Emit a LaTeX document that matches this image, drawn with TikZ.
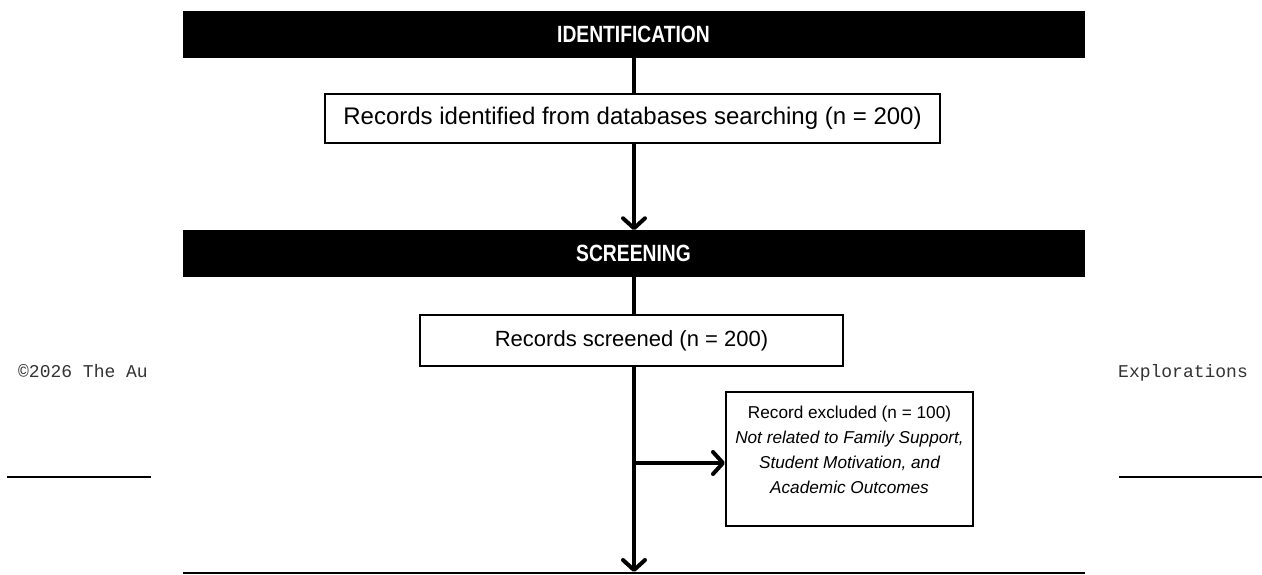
\documentclass[tikz,border=0pt]{standalone}
\usepackage{fontspec}
\setmainfont{Liberation Sans}
\newfontfamily\barfont[FakeStretch=0.82]{Liberation Sans}
\newfontfamily\wmfont{Liberation Mono}
\usetikzlibrary{arrows.meta}
\tikzset{
  phasebar/.style={draw=black, fill=black, text=white, font=\barfont\bfseries\fontsize{23.5}{26}\selectfont,
    minimum width=901pt, minimum height=46pt, inner sep=0pt, line width=0.5pt},
  recbox/.style={draw=black, fill=white, line width=2pt, inner sep=0pt},
  extext/.style={inner sep=0pt, align=center, font=\fontsize{17.2}{25}\selectfont},
  flow/.style={line width=4pt},
  flowarrow/.style={line width=4pt, -{Straight Barb[length=10pt,width=22pt,line cap=round,line join=round]}},
  rule/.style={line width=2pt},
  wmtext/.style={font=\wmfont\fontsize{18}{20}\selectfont, inner sep=0pt, anchor=base west, text=black!80}
}
\begin{document}
\begin{tikzpicture}[x=1pt,y=-1pt]
\useasboundingbox (0,0) rectangle (1262,574);
\fill[white] (0,0) rectangle (1262,574);
% page elements partly hidden behind the chart
\node[wmtext] (wmleft) at (18,377) {\char"00A9 2026 The Au};
\node[wmtext] (wmright) at (1118,377) {Explorations};
\coordinate (ll1) at (7,477); \coordinate (ll2) at (151,477);
\coordinate (rl1) at (1119,477); \coordinate (rl2) at (1262,477);
\draw[rule] (ll1) -- (ll2);
\draw[rule] (rl1) -- (rl2);
% phases
\node[phasebar] (bar1) at (633.5,34) {IDENTIFICATION};
\node[phasebar] (bar2) at (633.5,253.5) {SCREENING};
% boxes
\node[recbox, font=\fontsize{24}{28}\selectfont, minimum width=615pt, minimum height=49pt] (box1) at (632.5,118.5)
  {Records identified from databases searching (n = 200)};
\node[recbox, font=\fontsize{22}{26}\selectfont, minimum width=423pt, minimum height=51pt] (box2) at (631.5,340.5)
  {Records screened (n = 200)};
\node[recbox, minimum width=247pt, minimum height=134pt] (box3) at (849.5,459) {};
\node[extext] (box3text) at (849.5,450)
  {Record excluded (n = 100)\\ \itshape Not related to Family Support,\\ \itshape Student Motivation, and\\ \itshape Academic Outcomes};
% spine
\coordinate (spine) at (634,0);
\coordinate (split) at (634,463);
\coordinate (endtip) at (634,572);
\coordinate (bl1) at (183,573); \coordinate (bl2) at (1085,573);
\draw[flow] (bar1.south -| spine) -- (box1.north -| spine);
\draw[flowarrow] (box1.south -| spine) -- (bar2.north -| spine);
\draw[flow] (bar2.south -| spine) -- (box2.north -| spine);
\draw[flowarrow] (box2.south -| spine) -- (endtip);
\draw[flowarrow] (split) -- (box3.west |- split);
\draw[rule] (bl1) -- (bl2);
\end{tikzpicture}
\end{document}
